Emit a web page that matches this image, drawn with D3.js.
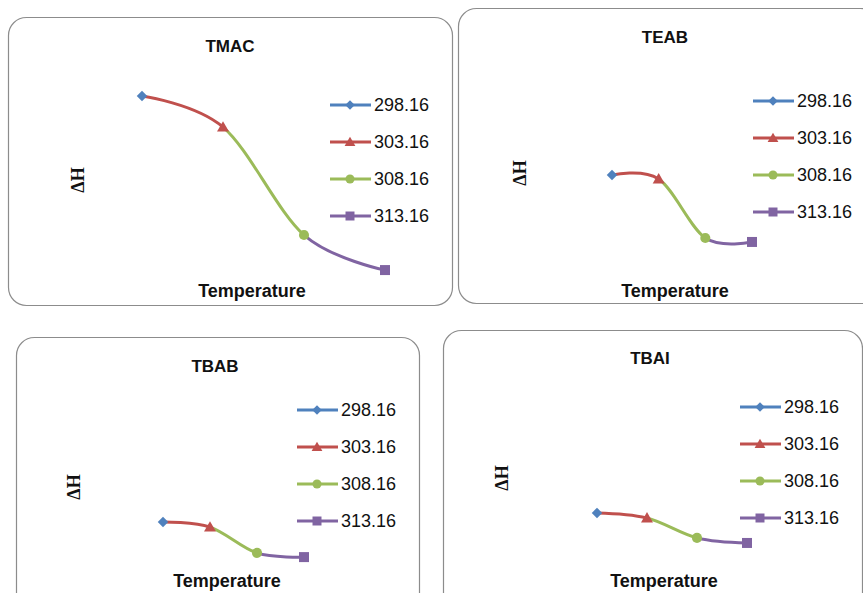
<!DOCTYPE html>
<html><head><meta charset="utf-8">
<script src="https://cdn.jsdelivr.net/npm/d3@7"></script>
<style>body{margin:0;background:#fff}svg{display:block}</style>
</head><body>
<svg id="c" width="863" height="593"></svg>
<script>
// ---- data ----
const categories = ["298.16", "303.16", "308.16", "313.16"];
const panelNames = ["TMAC", "TEAB", "TBAB", "TBAI"];
// ΔH in relative units (no axis shown in the reference)
const tmacValues = [86.2, 71.4, 20.0, 3.3];
const teabValues = [44.3, 42.4, 14.3, 12.4];
const tbabValues = [35.7, 33.3, 21.0, 19.0];
const tbaiValues = [36.7, 34.3, 24.8, 22.4];
const seriesValues = [tmacValues, teabValues, tbabValues, tbaiValues];
const xTitle = "Temperature";
const yTitle = "ΔH";

// ---- styles / layout ----
const colors = ["#4F81BD", "#C0504D", "#9BBB59", "#8064A2"];
const symbols = ["diamond", "triangle", "circle", "square"];
const layout = [
  {x: 8, y: 17, w: 444, h: 288, titleX: 230, titleY: 52, xTitleX: 252, xTitleY: 297, yTitleX: 78, yTitleY: 180, x0: 142, x1: 385, plotTop: 67, plotBottom: 277, legX: 330, legY: 105},
  {x: 458, y: 8, w: 420, h: 295, titleX: 665, titleY: 43, xTitleX: 675, xTitleY: 297, yTitleX: 520, yTitleY: 173, x0: 612, x1: 752, plotTop: 58, plotBottom: 268, legX: 753, legY: 101},
  {x: 16, y: 337, w: 403, h: 280, titleX: 215, titleY: 372, xTitleX: 227, xTitleY: 587, yTitleX: 74, yTitleY: 487, x0: 163, x1: 304, plotTop: 387, plotBottom: 597, legX: 297, legY: 410},
  {x: 443, y: 330, w: 419, h: 290, titleX: 650, titleY: 364, xTitleX: 664, xTitleY: 587, yTitleX: 502, yTitleY: 478, x0: 597, x1: 747, plotTop: 380, plotBottom: 590, legX: 740, legY: 407}
];
const legendStep = 37;

const svg = d3.select("#c");

function drawMarker(g, kind, x, y, color, s) {
  if (kind === "diamond") {
    g.append("path").attr("d", d3.symbol(d3.symbolSquare, s * s * 0.55)())
      .attr("transform", `translate(${x},${y}) rotate(45)`).attr("fill", color);
  } else if (kind === "triangle") {
    g.append("path").attr("d", d3.symbol(d3.symbolTriangle, s * s * 0.62)())
      .attr("transform", `translate(${x},${y + 1})`).attr("fill", color);
  } else if (kind === "circle") {
    g.append("path").attr("d", d3.symbol(d3.symbolCircle, s * s * 0.8)())
      .attr("transform", `translate(${x},${y})`).attr("fill", color);
  } else {
    g.append("path").attr("d", d3.symbol(d3.symbolSquare, s * s)())
      .attr("transform", `translate(${x},${y})`).attr("fill", color);
  }
}

panelNames.forEach((name, pi) => {
  const L = layout[pi];
  const vals = seriesValues[pi];
  const g = svg.append("g");

  g.append("rect").attr("x", L.x + 0.5).attr("y", L.y + 0.5)
    .attr("width", L.w).attr("height", L.h).attr("rx", 18).attr("ry", 18)
    .attr("fill", "#fff").attr("stroke", "#8c8c8c").attr("stroke-width", 1.2);

  const xs = d3.scalePoint().domain(categories).range([L.x0, L.x1]);
  const ys = d3.scaleLinear().domain([0, 100]).range([L.plotBottom, L.plotTop]);

  const pts = categories.map((c, i) => ({c, v: vals[i]}));
  const line = d3.line().x(d => xs(d.c)).y(d => ys(d.v)).curve(d3.curveCardinal.tension(0));

  // segments: each segment coloured by its end point (vary colours by point)
  for (let i = 1; i < categories.length; i++) {
    const cid = `clip${pi}_${i}`;
    svg.append("defs").append("clipPath").attr("id", cid)
      .append("rect").attr("x", xs(categories[i - 1])).attr("y", 0)
      .attr("width", xs(categories[i]) - xs(categories[i - 1])).attr("height", 593);
    g.append("path").attr("d", line(pts)).attr("fill", "none")
      .attr("stroke", colors[i]).attr("stroke-width", 3)
      .attr("clip-path", `url(#${cid})`);
  }
  pts.forEach((d, i) => drawMarker(g, symbols[i], xs(d.c), ys(d.v), colors[i], 10));

  // titles
  g.append("text").attr("x", L.titleX).attr("y", L.titleY).attr("text-anchor", "middle")
    .attr("font-family", "Liberation Sans, Arial, sans-serif").attr("font-weight", "bold")
    .attr("font-size", 17).attr("fill", "#111").text(name);
  g.append("text").attr("x", L.xTitleX).attr("y", L.xTitleY).attr("text-anchor", "middle")
    .attr("font-family", "Liberation Sans, Arial, sans-serif").attr("font-weight", "bold")
    .attr("font-size", 18).attr("fill", "#111").text(xTitle);
  g.append("text").attr("transform", `translate(${L.yTitleX},${L.yTitleY}) rotate(-90)`)
    .attr("text-anchor", "middle").attr("dominant-baseline", "central")
    .attr("font-family", "Liberation Serif, Times New Roman, serif").attr("font-weight", "bold")
    .attr("font-size", 18).attr("fill", "#111").text(yTitle);

  // legend
  categories.forEach((c, i) => {
    const ly = L.legY + i * legendStep;
    g.append("line").attr("x1", L.legX).attr("x2", L.legX + 41).attr("y1", ly).attr("y2", ly)
      .attr("stroke", colors[i]).attr("stroke-width", 3);
    drawMarker(g, symbols[i], L.legX + 20, ly, colors[i], 9);
    g.append("text").attr("x", L.legX + 44).attr("y", ly + 6)
      .attr("font-family", "Liberation Sans, Arial, sans-serif")
      .attr("font-size", 18).attr("fill", "#111").text(c);
  });
});
</script>
</body></html>
